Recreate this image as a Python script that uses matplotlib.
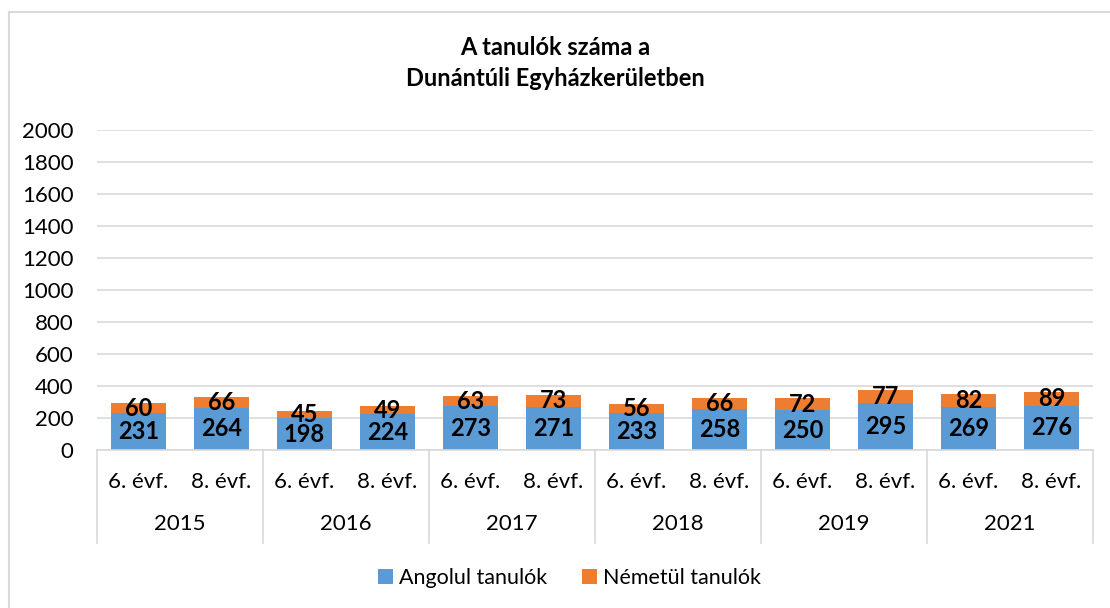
import matplotlib.pyplot as plt
from matplotlib.lines import Line2D

plt.rcParams['font.family'] = ['Lato', 'DejaVu Sans']

years = ['2015', '2016', '2017', '2018', '2019', '2021']
grades = ['6. évf.', '8. évf.']
angol = [231, 264, 198, 224, 273, 271, 233, 258, 250, 295, 269, 276]
nemet = [60, 66, 45, 49, 63, 73, 56, 66, 72, 77, 82, 89]

blue = '#5B9BD5'
orange = '#ED7D31'
grid_c = '#D9D9D9'

W, H = 1110, 608
fig = plt.figure(figsize=(W / 100, H / 100), dpi=100)

# plot area in pixel coords
x0, x1, y0, y1 = 97, 1093, 450, 130
ax = fig.add_axes([x0 / W, 1 - y0 / H, (x1 - x0) / W, (y0 - y1) / H])

n = len(angol)
xs = list(range(n))
b1 = ax.bar(xs, angol, width=0.67, color=blue, label='Angolul tanulók', zorder=2)
b2 = ax.bar(xs, nemet, width=0.67, bottom=angol, color=orange, label='Németül tanulók', zorder=2)
ax.bar_label(b1, label_type='center', fontsize=17, fontweight='bold', color='black')
ax.bar_label(b2, label_type='center', fontsize=17, fontweight='bold', color='black')

ax.set_xlim(-0.5, n - 0.5)
ax.set_ylim(0, 2000)
ax.set_yticks(range(0, 2001, 200))
ax.tick_params(axis='y', length=0, labelsize=16, pad=17)
ax.set_xticks([])
ax.grid(axis='y', color=grid_c, linewidth=1.2, zorder=0)
for s in ['top', 'right', 'left']:
    ax.spines[s].set_visible(False)
ax.spines['bottom'].set_color(grid_c)
ax.spines['bottom'].set_linewidth(1.2)

# two-level category axis
tr = ax.get_xaxis_transform()
sub_y = (y0 - 482) / (y0 - y1)
year_y = (y0 - 524) / (y0 - y1)
sep_y = (y0 - 543) / (y0 - y1)
for i, x in enumerate(xs):
    ax.text(x, sub_y, grades[i % 2], transform=tr, ha='center', va='center', fontsize=16)
for j, yr in enumerate(years):
    ax.text(2 * j + 0.5, year_y, yr, transform=tr, ha='center', va='center', fontsize=16)
for k in range(len(years) + 1):
    ax.plot([2 * k - 0.5] * 2, [0, sep_y], transform=tr, color=grid_c, lw=1.2, clip_on=False)

fig.text(0.5, 1 - 63 / H, 'A tanulók száma a\nDunántúli Egyházkerületben',
         ha='center', va='center', fontsize=17, fontweight='bold', linespacing=1.45)

fig.legend(handles=[b1, b2], loc='center', bbox_to_anchor=(0.513, 1 - 578 / H), ncol=2,
           frameon=False, fontsize=15.5, handlelength=0.7, handleheight=0.7,
           handletextpad=0.3, columnspacing=1.6)

# chart border (left and top visible)
fig.add_artist(Line2D([8.5 / W, 8.5 / W], [0, 1 - 11.5 / H], color=grid_c, lw=1.5))
fig.add_artist(Line2D([8.5 / W, 1], [1 - 11.5 / H, 1 - 11.5 / H], color=grid_c, lw=1.5))

fig.savefig('out.png', dpi=100, facecolor='white')
